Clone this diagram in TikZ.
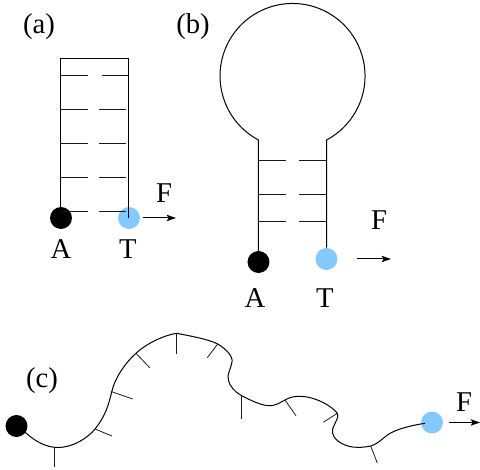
\documentclass[tikz,border=0pt]{standalone}
\usepackage{fontspec}
\setmainfont{Liberation Serif}
\usetikzlibrary{arrows.meta}
\begin{document}
\begin{tikzpicture}[x=0.75pt,y=-0.75pt,
  strand/.style={draw=black,line width=0.75pt},
  rung/.style={draw=black!90,line width=0.6pt},
  blackbead/.style={circle,fill=black,minimum size=16.5pt,inner sep=0pt},
  bluebead/.style={circle,fill={rgb,255:red,130;green,202;blue,255},minimum size=16.5pt,inner sep=0pt},
  force/.style={draw=black,line width=0.75pt,-{Stealth[length=7pt,width=4.8pt,inset=1.5pt]}},
  lab/.style={inner sep=0pt,font=\fontsize{21.5pt}{21.5pt}\selectfont}]
\useasboundingbox (0,0) rectangle (480,470);
% panel a
\node[blackbead] (a1) at (61,218) {};
\node[bluebead] (a2) at (129,218) {};
\draw[strand] (a1.center) -- (61,58.5) -- (129,58.5) -- (a2.center);
\foreach \y in {109,143,177,211}{
  \draw[rung] (61,\y) -- (88,\y);
  \draw[rung] (99,\y) -- (126,\y);
}
\draw[rung] (61,75.5) -- (88,75.5);
\draw[rung] (102,75.5) -- (129,75.5);
\coordinate (a3) at (176,218);
\coordinate (a4) at (143,218);
\draw[force] (a4) -- (a3);
\node[lab] (la) at (39,27) {(a)};
\node[lab] (fa) at (164,193) {F};
\node[lab] (aa) at (61,249) {A};
\node[lab] (ta) at (128,249) {T};
% panel b
\node[blackbead] (b1) at (258.5,262) {};
\node[bluebead] (b2) at (326.5,259) {};
\draw[strand] (b1.center) -- (258.5,140) arc[start angle=118,end angle=422,radius=72.5] -- (b2.north);
\foreach \y in {160.5,194,221.5}{
  \draw[rung] (258.5,\y) -- (286,\y);
  \draw[rung] (299,\y) -- (326.5,\y);
}
\coordinate (b3) at (391,259);
\coordinate (b4) at (357,259);
\draw[force] (b4) -- (b3);
\node[lab] (lb) at (193,27) {(b)};
\node[lab] (fb) at (379,220) {F};
\node[lab] (ab) at (255,298) {A};
\node[lab] (tb) at (325,298) {T};
% panel c
\node[blackbead] (c1) at (16.5,426) {};
\node[bluebead] (c2) at (432,422.5) {};
\draw[strand] (c1.center) -- (26,433)
 .. controls (36,442) and (46,447) .. (57,447.5)
 .. controls (72,448) and (88,438) .. (95,429)
 .. controls (105,417) and (109,404) .. (111.7,391.7)
 .. controls (115,378) and (125,363) .. (136,353.3)
 .. controls (147,343) and (165,335) .. (176.7,333.3)
 .. controls (190,336) and (208,339) .. (217.7,344)
 .. controls (226,349) and (233,356) .. (232,362)
 .. controls (231,369) and (227,373) .. (228.3,380)
 .. controls (229.5,386) and (235,392) .. (241,395.3)
 .. controls (250,400) and (260,405) .. (268.3,405.7)
 .. controls (276,406) and (281,402) .. (285,400)
 .. controls (290,397) and (295,396.3) .. (300,396.3)
 .. controls (315,396.5) and (332,406) .. (337.3,413.3)
 .. controls (340,420) and (331,425) .. (332.7,433.3)
 .. controls (334,441) and (346,447.3) .. (356.7,447.3)
 .. controls (362,447.5) and (366,447) .. (370.7,446)
 .. controls (378,444) and (384,437) .. (390,433.3)
 .. controls (400,428) and (414,425) .. (425,423.3);
\foreach \xa/\ya/\xb/\yb in {54.3/447.3/54.3/467, 95/429/112/436, 111.7/391.7/132.7/399, 136/353.3/149.7/367.7, 176.7/333.3/176.7/354, 217.7/344/207.3/357.7, 241.7/395.3/241.7/419, 285/400/296/415.7, 337.3/413.3/323.3/422.3, 370.7/446/377.3/463}{
  \draw[rung] (\xa,\ya) -- (\xb,\yb);
}
\coordinate (c3) at (480,422.5);
\coordinate (c4) at (449,422.5);
\draw[force] (c4) -- (c3);
\node[lab] (lc) at (42,381) {(c)};
\node[lab] (fc) at (464,402) {F};
\end{tikzpicture}
\end{document}
